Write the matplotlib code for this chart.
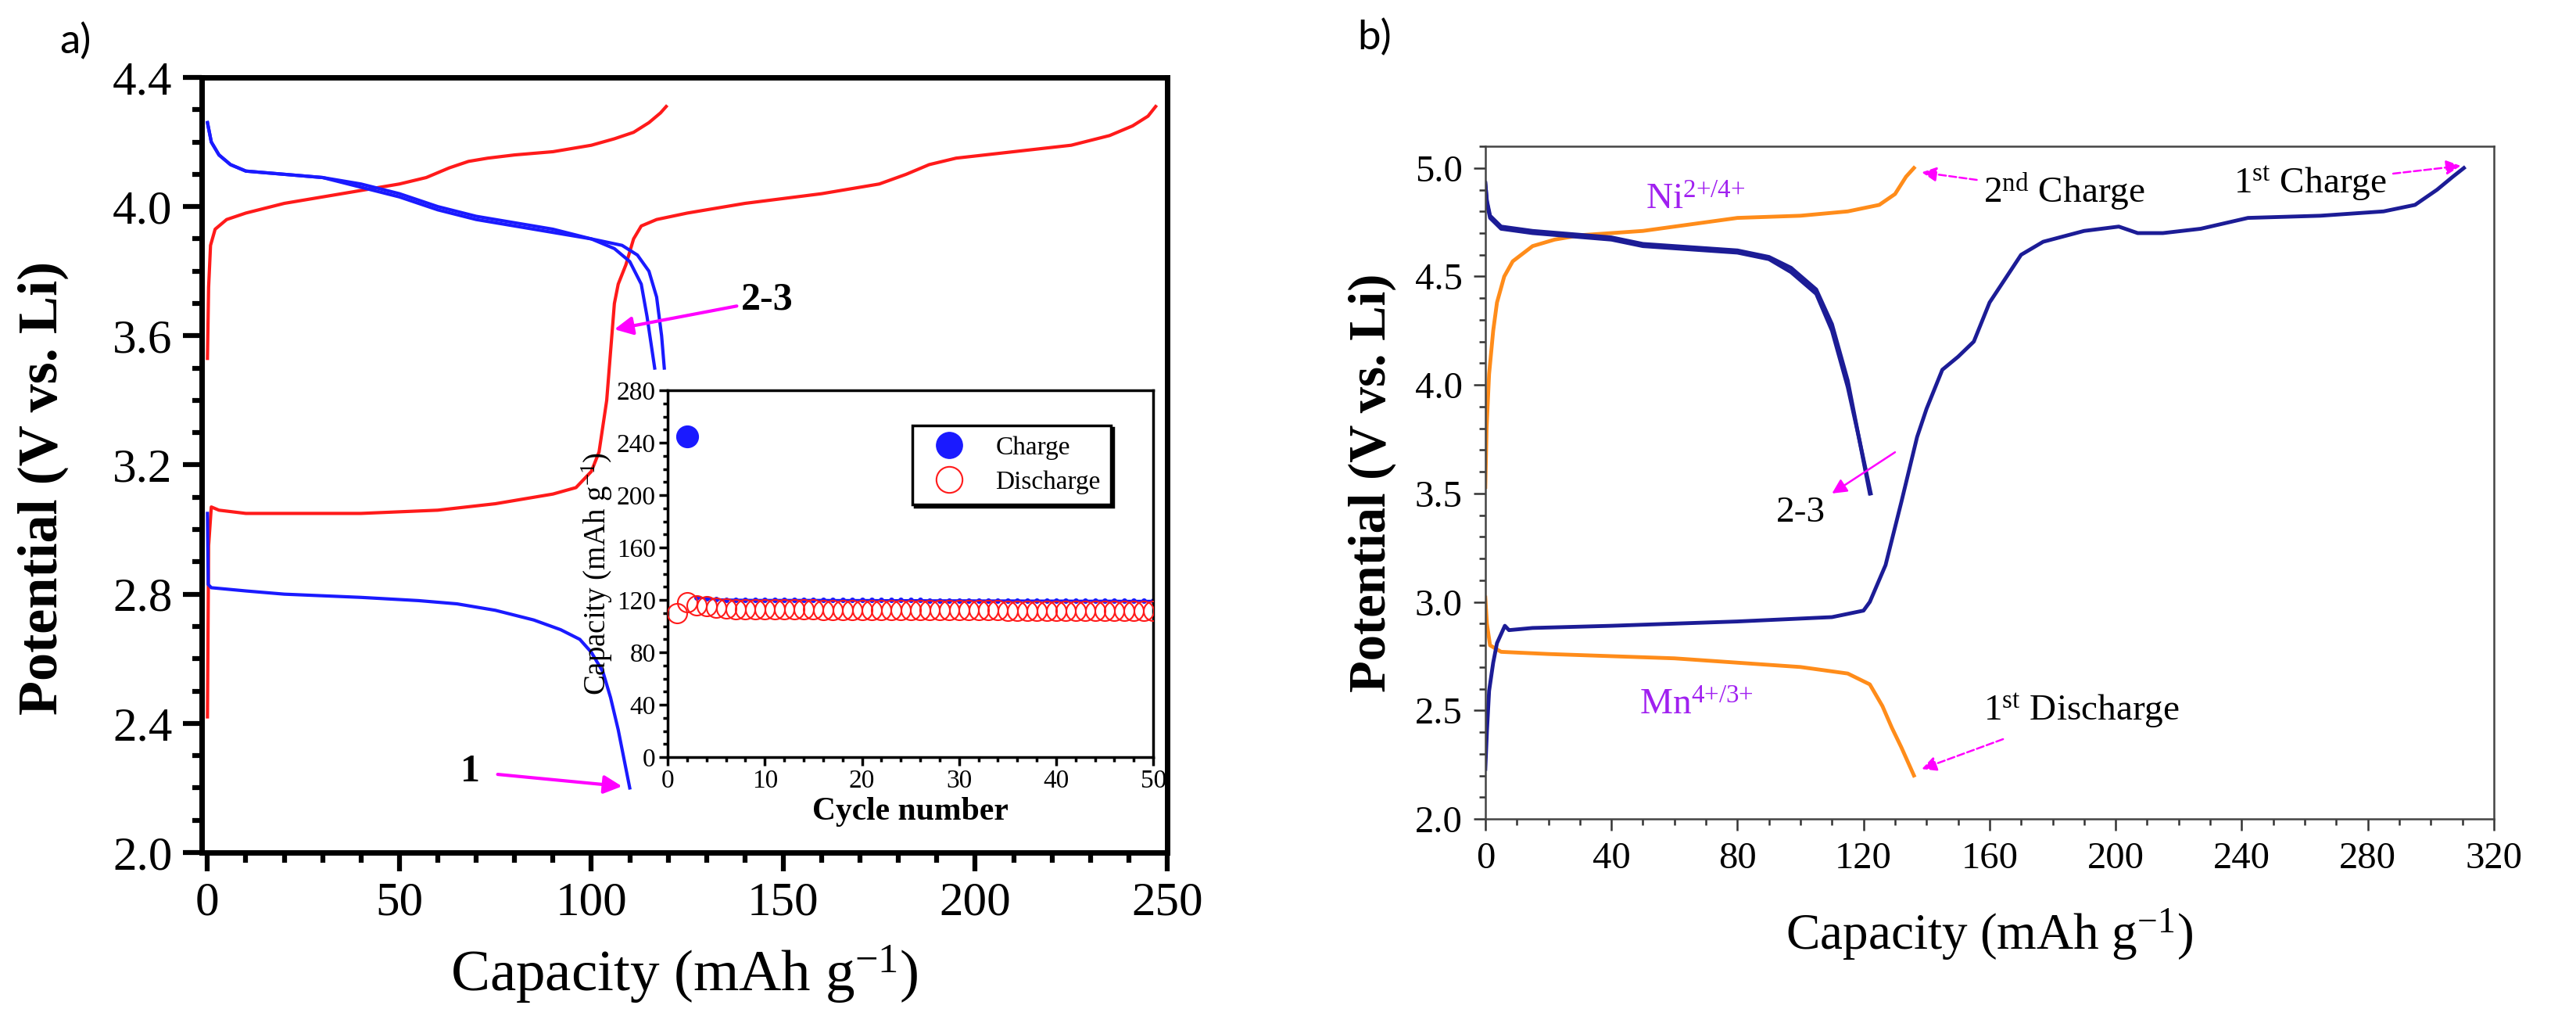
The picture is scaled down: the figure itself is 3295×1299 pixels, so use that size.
import numpy as np
import matplotlib
matplotlib.use("Agg")
import matplotlib.pyplot as plt
from matplotlib.ticker import MultipleLocator

plt.rcParams['font.family'] = ['Liberation Serif', 'DejaVu Serif']
plt.rcParams['mathtext.fontset'] = 'custom'
plt.rcParams['mathtext.rm'] = 'Liberation Serif'
plt.rcParams['mathtext.it'] = 'Liberation Serif:italic'
plt.rcParams['mathtext.bf'] = 'Liberation Serif:bold'

# ---- panel a: voltage profiles (capacity in mAh/g, potential in V) ----
a_charge1_x = [0, 0.3, 1, 3, 10, 20, 40, 60, 75, 85, 90, 96, 100, 102, 104, 105, 106, 107,
               109, 111, 113, 117, 125, 140, 160, 175, 182, 188, 195, 210, 225, 235, 241, 245, 247]
a_charge1_y = [2.42, 2.95, 3.07, 3.06, 3.05, 3.05, 3.05, 3.06, 3.08, 3.10, 3.11, 3.13, 3.18, 3.24,
               3.40, 3.55, 3.70, 3.76, 3.82, 3.90, 3.94, 3.96, 3.98, 4.01, 4.04, 4.07, 4.10, 4.13,
               4.15, 4.17, 4.19, 4.22, 4.25, 4.28, 4.31]

a_charge2_x = [0, 0.3, 0.8, 2, 5, 10, 20, 30, 40, 50, 57, 63, 68, 73, 80, 90, 100, 106, 111, 115, 118, 119.5]
a_charge2_y = [3.53, 3.75, 3.88, 3.93, 3.96, 3.98, 4.01, 4.03, 4.05, 4.07, 4.09, 4.12, 4.14, 4.15,
               4.16, 4.17, 4.19, 4.21, 4.23, 4.26, 4.29, 4.31]

a_dis1_x = [0, 0.2, 1, 10, 20, 40, 55, 65, 75, 85, 92, 97, 100, 103, 105, 107, 108.5, 110]
a_dis1_y = [3.05, 2.83, 2.82, 2.81, 2.80, 2.79, 2.78, 2.77, 2.75, 2.72, 2.69, 2.66, 2.62, 2.56,
            2.48, 2.38, 2.29, 2.20]

a_dis2_x = [0, 1, 3, 6, 10, 20, 30, 40, 50, 60, 70, 80, 90, 100, 106, 110, 113, 114.5, 115.5, 116.5]
a_dis2_y = [4.26, 4.20, 4.16, 4.13, 4.11, 4.10, 4.09, 4.07, 4.04, 4.00, 3.97, 3.95, 3.93, 3.90,
            3.87, 3.83, 3.76, 3.66, 3.58, 3.50]

a_dis3_x = [0, 1, 3, 6, 10, 20, 30, 40, 50, 60, 70, 80, 90, 100, 108, 112, 115, 117, 118.3, 119]
a_dis3_y = [4.26, 4.20, 4.16, 4.13, 4.11, 4.10, 4.09, 4.06, 4.03, 3.99, 3.96, 3.94, 3.92, 3.90,
            3.88, 3.85, 3.80, 3.72, 3.60, 3.50]

# ---- inset: capacity vs cycle number ----
cycle_dis = list(range(1, 51))
cap_dis = [110, 118, 116, 115, 114, 113.5, 113, 113, 113, 112.8,
           112.8, 112.7, 112.7, 112.6, 112.6, 112.5, 112.5, 112.5, 112.4, 112.4,
           112.4, 112.3, 112.3, 112.3, 112.2, 112.2, 112.2, 112.1, 112.1, 112.1,
           112.0, 112.0, 112.0, 112.0, 111.9, 111.9, 111.9, 111.8, 111.8, 111.8,
           111.7, 111.7, 111.7, 111.6, 111.6, 111.6, 111.5, 111.5, 111.5, 111.4]
cycle_chg = list(range(2, 51))
cap_chg = [245, 122, 121, 120.5, 120.3, 120.2, 120.1, 120, 120, 120,
           120, 120, 120, 120, 120, 119.9, 119.9, 119.9, 119.9, 119.9,
           119.8, 119.8, 119.8, 119.8, 119.8, 119.7, 119.7, 119.7, 119.7, 119.7,
           119.6, 119.6, 119.6, 119.6, 119.6, 119.5, 119.5, 119.5, 119.5, 119.5,
           119.4, 119.4, 119.4, 119.4, 119.4, 119.3, 119.3, 119.3, 119.3]

# ---- panel b: voltage profiles ----
b_dis1_x = [0, 0.5, 1.5, 5, 20, 40, 60, 80, 100, 115, 122, 126, 129, 132, 136]
b_dis1_y = [3.02, 2.90, 2.80, 2.77, 2.76, 2.75, 2.74, 2.72, 2.70, 2.67, 2.62, 2.52, 2.42, 2.33, 2.20]

b_chg2_x = [0, 0.4, 1.2, 2.5, 3.7, 6, 8.7, 15, 22, 30, 40, 50, 60, 70, 80, 100, 115, 125, 130, 133.5, 136]
b_chg2_y = [3.53, 3.80, 4.05, 4.25, 4.38, 4.50, 4.57, 4.64, 4.67, 4.69, 4.70, 4.71, 4.73, 4.75,
            4.77, 4.78, 4.80, 4.83, 4.88, 4.96, 5.00]

b_chg1_x = [0, 0.5, 1.2, 2.5, 3.7, 6.2, 7.5, 15, 40, 80, 110, 120, 122, 127, 132, 137, 140, 145,
            150, 155, 160, 165, 170, 177, 190, 201, 207, 215, 227, 242, 265, 285, 295, 302, 307, 310.5]
b_chg1_y = [2.23, 2.40, 2.59, 2.72, 2.81, 2.89, 2.87, 2.88, 2.89, 2.91, 2.93, 2.96, 3.00, 3.17,
            3.46, 3.76, 3.89, 4.07, 4.13, 4.20, 4.38, 4.49, 4.60, 4.66, 4.71, 4.73, 4.70, 4.70,
            4.72, 4.77, 4.78, 4.80, 4.83, 4.90, 4.96, 5.00]

b_dis2_x = [0, 0.5, 1.5, 5, 15, 40, 50, 80, 90, 97, 105, 110, 115, 118.5, 122]
b_dis2_y = [4.93, 4.85, 4.78, 4.73, 4.71, 4.68, 4.65, 4.62, 4.59, 4.54, 4.44, 4.28, 4.02, 3.76, 3.50]
b_dis3_x = [0, 0.5, 1.5, 5, 15, 40, 50, 80, 90, 97, 105, 110, 115, 118.8, 122.3]
b_dis3_y = [4.93, 4.84, 4.77, 4.72, 4.70, 4.67, 4.64, 4.61, 4.58, 4.52, 4.42, 4.25, 3.99, 3.74, 3.50]

RED = '#ff1a1a'
BLUE = '#1a1aff'
ORANGE = '#ff8c1a'
NAVY = '#1c1c96'
MAGENTA = '#ff00ff'
PURPLE = '#a020f0'

fig = plt.figure(figsize=(32.95, 12.99), dpi=100)

# ================= panel a =================
ax = fig.add_axes([0.0783, 0.1609, 0.3748, 0.7629])
ax.plot(a_charge1_x, a_charge1_y, color=RED, lw=3)
ax.plot(a_charge2_x, a_charge2_y, color=RED, lw=3)
ax.plot(a_dis1_x, a_dis1_y, color=BLUE, lw=3)
ax.plot(a_dis2_x, a_dis2_y, color=BLUE, lw=3)
ax.plot(a_dis3_x, a_dis3_y, color=BLUE, lw=3)

ax.set_xlim(-1.5, 250)
ax.set_ylim(2.0, 4.4)
ax.xaxis.set_major_locator(MultipleLocator(50))
ax.xaxis.set_minor_locator(MultipleLocator(10))
ax.yaxis.set_major_locator(MultipleLocator(0.4))
ax.yaxis.set_minor_locator(MultipleLocator(0.1))
ax.yaxis.set_major_formatter(plt.FormatStrFormatter('%.1f'))
ax.tick_params(which='both', direction='out', top=False, right=False, width=4.5, labelsize=44)
ax.tick_params(which='major', length=17, pad=10)
ax.tick_params(which='minor', length=9)
for s in ax.spines.values():
    s.set_linewidth(5)
ax.set_ylabel('Potential (V vs. Li)', fontsize=52, fontweight='bold')
ax.set_xlabel('Capacity (mAh g$^{\\mathrm{-1}}$)', fontsize=54)
ax.yaxis.set_label_coords(-0.138, 0.47)
ax.xaxis.set_label_coords(0.5, -0.118)

ax.annotate('2-3', xy=(106, 3.62), xytext=(139, 3.71), fontsize=36, fontweight='bold',
            va='center', ha='left',
            arrowprops=dict(arrowstyle='-|>', color=MAGENTA, lw=3, mutation_scale=35, shrinkA=2, shrinkB=0))
ax.annotate('1', xy=(108, 2.205), xytext=(66, 2.25), fontsize=36, fontweight='bold',
            va='center', ha='left',
            arrowprops=dict(arrowstyle='-|>', color=MAGENTA, lw=3, mutation_scale=35, shrinkA=14, shrinkB=0))

fig.text(0.0294, 0.959, 'a)', fontsize=38, family=['Lato', 'DejaVu Sans'], ha='center', va='center')

# inset
ins = fig.add_axes([0.2592, 0.2548, 0.1885, 0.361])
ins.plot(cycle_chg[1:], cap_chg[1:], '-o', color=BLUE, ms=4, lw=2, zorder=2)
ins.plot(cycle_chg[:1], cap_chg[:1], 'o', color=BLUE, ms=20, zorder=3)
ins.plot(cycle_dis, cap_dis, 'o', mfc='none', mec=RED, mew=1.5, ms=18, zorder=4)
ins.set_xlim(0, 50)
ins.set_ylim(0, 280)
ins.xaxis.set_major_locator(MultipleLocator(10))
ins.xaxis.set_minor_locator(MultipleLocator(2))
ins.yaxis.set_major_locator(MultipleLocator(40))
ins.yaxis.set_minor_locator(MultipleLocator(10))
ins.tick_params(which='both', direction='out', top=False, right=False, width=2.5, labelsize=24, pad=3)
ins.tick_params(which='major', length=8)
ins.tick_params(which='minor', length=4)
for s in ins.spines.values():
    s.set_linewidth(2.5)
ins.set_xlabel('Cycle number', fontsize=30, fontweight='bold', labelpad=4)
ins.set_ylabel('Capacity (mAh g$^{\\mathrm{-1}}$)', fontsize=28, labelpad=2)

h_c = plt.Line2D([], [], ls='none', marker='o', color=BLUE, ms=24)
h_d = plt.Line2D([], [], ls='none', marker='o', mfc='none', mec=RED, mew=1.5, ms=24)
leg = ins.legend([h_c, h_d], ['Charge', 'Discharge'], loc='upper right', bbox_to_anchor=(0.94, 0.94),
                 fontsize=24, frameon=True, fancybox=False, edgecolor='black',
                 shadow={'color': 'black', 'alpha': 1}, handletextpad=0.8, borderpad=0.4, labelspacing=0.4)
leg.get_frame().set_linewidth(2.5)

# ================= panel b =================
bx = fig.add_axes([0.5766, 0.194, 0.3915, 0.662])
bx.plot(b_dis1_x, b_dis1_y, color=ORANGE, lw=3.5)
bx.plot(b_chg2_x, b_chg2_y, color=ORANGE, lw=3.5)
bx.plot(b_chg1_x, b_chg1_y, color=NAVY, lw=3.5)
bx.plot(b_dis2_x, b_dis2_y, color=NAVY, lw=3.5)
bx.plot(b_dis3_x, b_dis3_y, color=NAVY, lw=3.5)

bx.set_xlim(0, 320)
bx.set_ylim(2.0, 5.1)
bx.xaxis.set_major_locator(MultipleLocator(40))
bx.xaxis.set_minor_locator(MultipleLocator(10))
bx.yaxis.set_major_locator(MultipleLocator(0.5))
bx.yaxis.set_minor_locator(MultipleLocator(0.1))
bx.yaxis.set_major_formatter(plt.FormatStrFormatter('%.1f'))
bx.tick_params(which='both', direction='out', top=False, right=False, width=1.8, labelsize=35,
               color='#333333')
bx.tick_params(which='major', length=11, pad=10)
bx.tick_params(which='minor', length=6)
for s in bx.spines.values():
    s.set_linewidth(1.8)
    s.set_color('#444444')
bx.set_ylabel('Potential (V vs. Li)', fontsize=48, fontweight='bold')
bx.set_xlabel('Capacity (mAh g$^{\\mathrm{-1}}$)', fontsize=47)
bx.yaxis.set_label_coords(-0.088, 0.5)
bx.xaxis.set_label_coords(0.5, -0.13)

bx.text(51, 4.85, 'Ni$^{\\mathrm{2{+}/4{+}}}$', fontsize=34, color=PURPLE, va='center')
bx.text(49, 2.52, 'Mn$^{\\mathrm{4{+}/3{+}}}$', fontsize=34, color=PURPLE, va='center')

dash_arrow = dict(arrowstyle='-|>', color=MAGENTA, lw=1.8, ls='--', mutation_scale=28, shrinkA=4, shrinkB=0)
bx.annotate('2$^{\\mathrm{nd}}$ Charge', xy=(138.5, 4.98), xytext=(158, 4.89), fontsize=34,
            va='center', ha='left', arrowprops=dash_arrow)
bx.annotate('1$^{\\mathrm{st}}$ Charge', xy=(309.5, 5.01), xytext=(286, 4.93), fontsize=34,
            va='center', ha='right', arrowprops=dash_arrow)
bx.annotate('1$^{\\mathrm{st}}$ Discharge', xy=(138.5, 2.23), xytext=(158, 2.50), fontsize=34,
            va='center', ha='left', arrowprops=dict(dash_arrow, shrinkA=20))
bx.annotate('', xy=(110, 3.50), xytext=(130, 3.69),
            arrowprops=dict(arrowstyle='-|>', color=MAGENTA, lw=1.8, mutation_scale=28, shrinkA=0, shrinkB=0))
bx.text(100, 3.41, '2-3', fontsize=34, va='center', ha='center')

fig.text(0.5335, 0.963, 'b)', fontsize=38, family=['Lato', 'DejaVu Sans'], ha='center', va='center')

fig.savefig('out.png', dpi=100)
